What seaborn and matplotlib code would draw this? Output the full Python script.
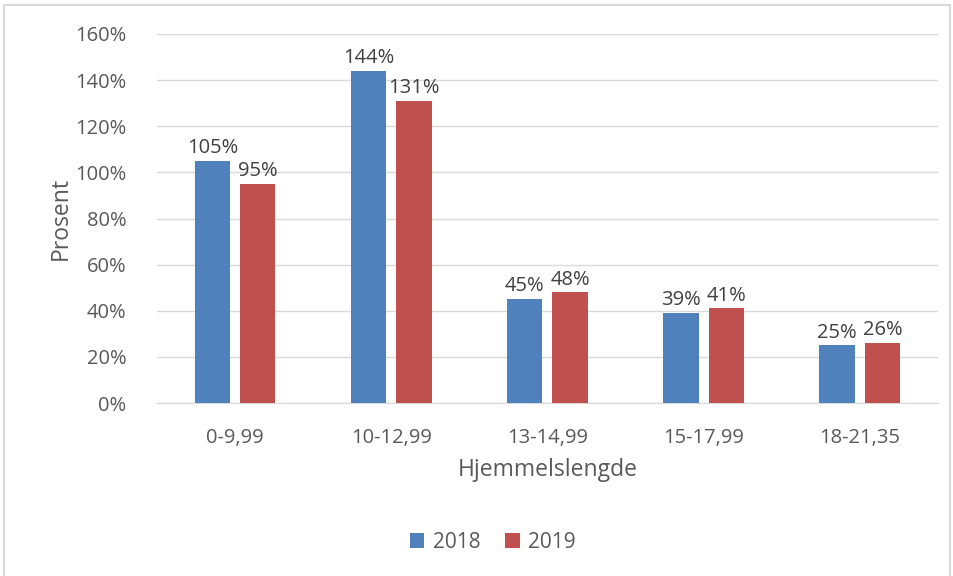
import pandas as pd
import matplotlib.pyplot as plt
import seaborn as sns
from matplotlib.patches import Rectangle
from matplotlib.ticker import PercentFormatter

# Data
kategorier = ["0-9,99", "10-12,99", "13-14,99", "15-17,99", "18-21,35"]
verdier_2018 = [1.05, 1.44, 0.45, 0.39, 0.25]
verdier_2019 = [0.95, 1.31, 0.48, 0.41, 0.26]
aar = ["2018", "2019"]
farger = ["#4F81BD", "#C0504D"]

df = pd.DataFrame({
    "kategori": kategorier * 2,
    "verdi": verdier_2018 + verdier_2019,
    "aar": [aar[0]] * len(kategorier) + [aar[1]] * len(kategorier),
})

sns.set_style("white")
plt.rcParams['font.family'] = ['Open Sans', 'DejaVu Sans']
tekst = "#595959"

fig = plt.figure(figsize=(9.54, 5.76), dpi=100)
ax = fig.add_axes([0.1646, 0.3003, 0.8184, 0.6407])

sns.barplot(data=df, x="kategori", y="verdi", hue="aar", palette=farger,
            saturation=1, width=0.58, gap=0.22, linewidth=0, ax=ax, zorder=3)

# Data labels
for cont in ax.containers:
    ax.bar_label(cont, labels=[f"{v*100:.0f}%" for v in cont.datavalues],
                 fontsize=14.5, color="#404040", padding=2)

ax.set_ylim(0, 1.6)
ax.set_yticks([i * 0.2 for i in range(9)])
ax.yaxis.set_major_formatter(PercentFormatter(1.0, decimals=0))
ax.grid(axis="y", color="#D9D9D9", linewidth=1, zorder=0)
ax.set_axisbelow(True)
for s in ["top", "right", "left"]:
    ax.spines[s].set_visible(False)
ax.spines["bottom"].set_color("#D9D9D9")
ax.tick_params(axis="both", length=0, labelsize=14.5, colors=tekst)
ax.tick_params(axis="y", pad=22)
ax.tick_params(axis="x", pad=18)

ax.set_ylabel("Prosent", fontsize=16.5, color=tekst, labelpad=2)
ax.set_xlabel("Hjemmelslengde", fontsize=16.5, color=tekst, labelpad=7)

ax.legend(loc="center", bbox_to_anchor=(0.43, -0.378), ncol=2, frameon=False,
          fontsize=15, handlelength=0.7, handleheight=0.7, handletextpad=0.4,
          columnspacing=1.2, labelcolor=tekst)

# Chart frame
fig.patches.append(Rectangle((4 / 954, -0.02), 946 / 954, 1 - 5 / 576 + 0.02,
                             transform=fig.transFigure, fill=False,
                             edgecolor="#D9D9D9", linewidth=1.5))

fig.savefig("out.png", dpi=100)
